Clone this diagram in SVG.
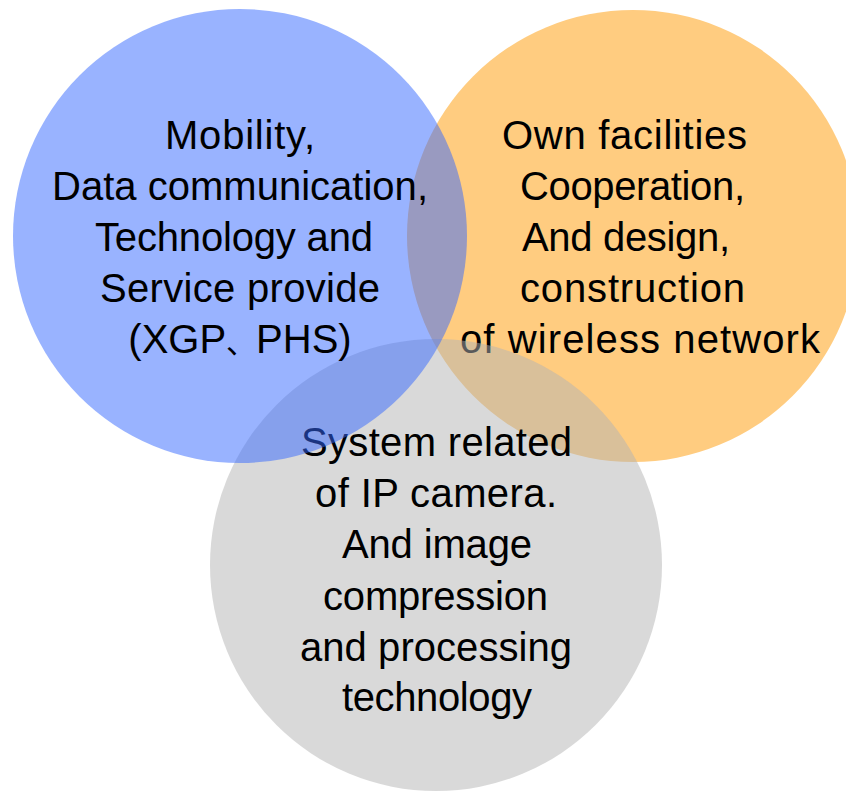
<svg xmlns="http://www.w3.org/2000/svg" width="846" height="791" viewBox="0 0 846 791">
<style>
text{font-family:"Liberation Sans",Arial,sans-serif;font-size:40px;fill:#000;text-anchor:middle}
.cjk{font-family:"Noto Sans CJK JP",sans-serif;font-size:30px}
</style>
<rect width="846" height="791" fill="#fff"/>
<g id="node-wireless">
<circle cx="633" cy="236" r="226" fill="#FFCC80"/>
<text x="624.5" y="149" textLength="245" lengthAdjust="spacing">Own facilities</text>
<text x="632.5" y="200" textLength="225" lengthAdjust="spacing">Cooperation,</text>
<text x="626" y="251" textLength="208" lengthAdjust="spacing">And design,</text>
<text x="632.5" y="302" textLength="225" lengthAdjust="spacing">construction</text>
<text x="640" y="353" textLength="360" lengthAdjust="spacing">of wireless network</text>
</g>
<g id="node-camera">
<circle cx="436" cy="565" r="226" fill="#B3B3B3" fill-opacity="0.5"/>
<text x="436.5" y="456" textLength="271" lengthAdjust="spacing">System related</text>
<text x="436" y="507" textLength="242" lengthAdjust="spacing">of IP camera.</text>
<text x="437" y="558" textLength="190" lengthAdjust="spacing">And image</text>
<text x="435.5" y="610" textLength="225" lengthAdjust="spacing">compression</text>
<text x="436" y="661" textLength="272" lengthAdjust="spacing">and processing</text>
<text x="437" y="711" textLength="190" lengthAdjust="spacing">technology</text>
</g>
<g id="node-mobility">
<circle cx="240" cy="236" r="227" fill="#3367FF" fill-opacity="0.5"/>
<text x="240" y="149" textLength="150" lengthAdjust="spacing">Mobility,</text>
<text x="240" y="200" textLength="376" lengthAdjust="spacing">Data communication,</text>
<text x="234" y="251" textLength="278" lengthAdjust="spacing">Technology and</text>
<text x="240" y="302" textLength="280" lengthAdjust="spacing">Service provide</text>
<text x="240" y="353">(XGP<tspan class="cjk">、</tspan>PHS)</text>
</g>
<g id="connectors"/>
</svg>
